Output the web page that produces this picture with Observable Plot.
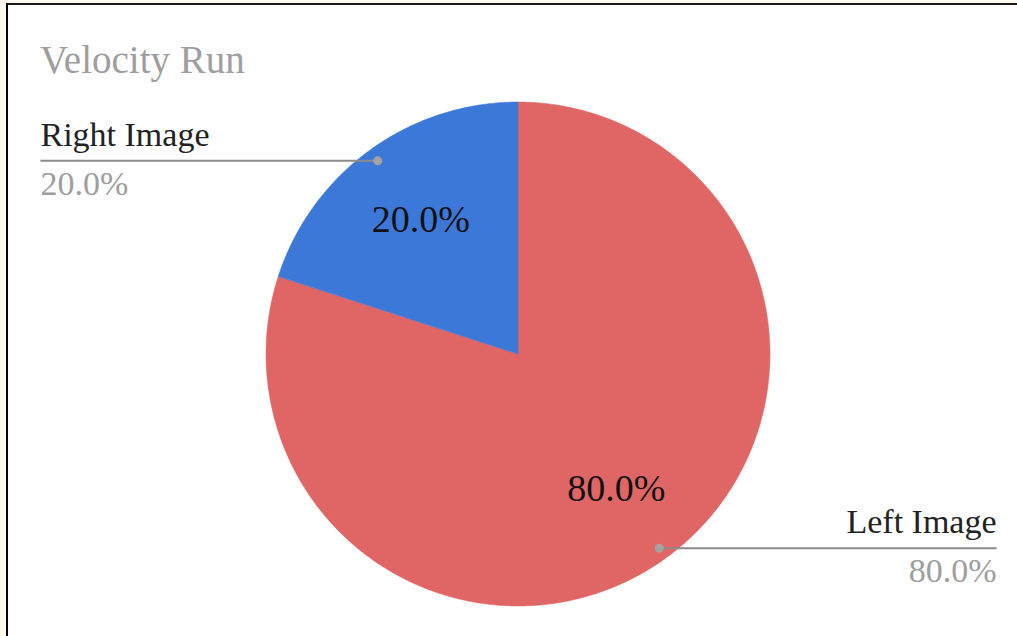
<!DOCTYPE html>
<html>
<head>
<meta charset="utf-8">
<script src="https://cdn.jsdelivr.net/npm/d3@7"></script>
<script src="https://cdn.jsdelivr.net/npm/@observablehq/plot@0.6"></script>
<style>
  html, body { margin: 0; padding: 0; background: #fff8ee; width: 1017px; height: 636px; overflow: hidden; }
  #frame {
    position: absolute; left: 6px; top: 3px; width: 1011px; height: 633px;
    border-left: 2px solid #000; border-top: 2px solid #1a1a1a; background: #fff;
  }
  #title {
    height: 85px; box-sizing: border-box; padding-top: 35px; padding-left: 32px;
    font-family: "Liberation Serif", "Times New Roman", Times, Tinos, "DejaVu Serif", serif;
    font-size: 39px; line-height: 39px; color: #9e9e9e;
    white-space: nowrap;
  }
  #chart svg { display: block; }
  #chart svg text { font-family: "Liberation Serif", "Times New Roman", Times, Tinos, "DejaVu Serif", serif; }
</style>
</head>
<body>
<div id="frame">
  <div id="title"></div>
  <div id="chart"></div>
</div>
<script>
const chartTitle = "Velocity Run";
const names = ["Left Image", "Right Image"];
const values = [80, 20];
const sliceColors = ["#e06666", "#3c78d8"];

document.getElementById("title").textContent = chartTitle;

const total = d3.sum(values);
const fmt = d3.format(".1%");
const arcs = d3.pie().sort(null).value(d => d)(values);

// sector outlines in unit-circle coordinates (angle 0 at 12 o'clock, clockwise)
const outline = [];
arcs.forEach((a, i) => {
  const steps = Math.max(2, Math.ceil((a.endAngle - a.startAngle) / (2 * Math.PI) * 720));
  for (let k = 0; k <= steps; k++) {
    const t = a.startAngle + (a.endAngle - a.startAngle) * k / steps;
    outline.push({name: names[i], x: Math.sin(t), y: Math.cos(t)});
  }
});

const labelCol = 1.897; // leader label column, in radius units
const slices = arcs.map((a, i) => {
  const mid = (a.startAngle + a.endAngle) / 2;
  const right = Math.sin(mid) > 0;
  return {
    name: names[i],
    pct: fmt(values[i] / total),
    ix: 0.66 * Math.sin(mid), iy: 0.66 * Math.cos(mid),
    dx: 0.95 * Math.sin(mid), dy: 0.95 * Math.cos(mid),
    lx: right ? labelCol : -labelCol,
    anchor: right ? "end" : "start"
  };
});

const serif = '"Liberation Serif", "Times New Roman", Times, Tinos, "DejaVu Serif", serif';
const chart = Plot.plot({
  width: 1009, height: 546,
  marginLeft: 258, marginRight: 247, marginTop: 12, marginBottom: 30,
  x: {domain: [-1, 1], axis: null},
  y: {domain: [-1, 1], axis: null},
  color: {domain: names, range: sliceColors},
  style: {fontFamily: serif, background: "transparent", overflow: "visible"},
  marks: [
    Plot.area(outline, {x1: 0, y1: 0, x2: "x", y2: "y", z: "name", fill: "name", stroke: "name", strokeWidth: 0.5}),
    Plot.text(slices, {x: "ix", y: "iy", text: "pct", fontSize: 38, fill: "#111", lineAnchor: "middle"}),
    Plot.link(slices, {x1: "dx", y1: "dy", x2: "lx", y2: "dy", stroke: "#8c8c8c", strokeWidth: 2}),
    Plot.dot(slices, {x: "dx", y: "dy", r: 4.5, fill: "#a3a3a3", stroke: null}),
    Plot.text(slices.filter(d => d.anchor === "start"), {x: "lx", y: "dy", text: "name", textAnchor: "start", lineAnchor: "bottom", dy: -15, fontSize: 34, fill: "#222"}),
    Plot.text(slices.filter(d => d.anchor === "end"), {x: "lx", y: "dy", text: "name", textAnchor: "end", lineAnchor: "bottom", dy: -15, fontSize: 34, fill: "#222"}),
    Plot.text(slices.filter(d => d.anchor === "start"), {x: "lx", y: "dy", text: "pct", textAnchor: "start", lineAnchor: "bottom", dy: 34, fontSize: 34, fill: "#9e9e9e"}),
    Plot.text(slices.filter(d => d.anchor === "end"), {x: "lx", y: "dy", text: "pct", textAnchor: "end", lineAnchor: "bottom", dy: 34, fontSize: 34, fill: "#9e9e9e"})
  ]
});
document.getElementById("chart").appendChild(chart);
</script>
</body>
</html>
